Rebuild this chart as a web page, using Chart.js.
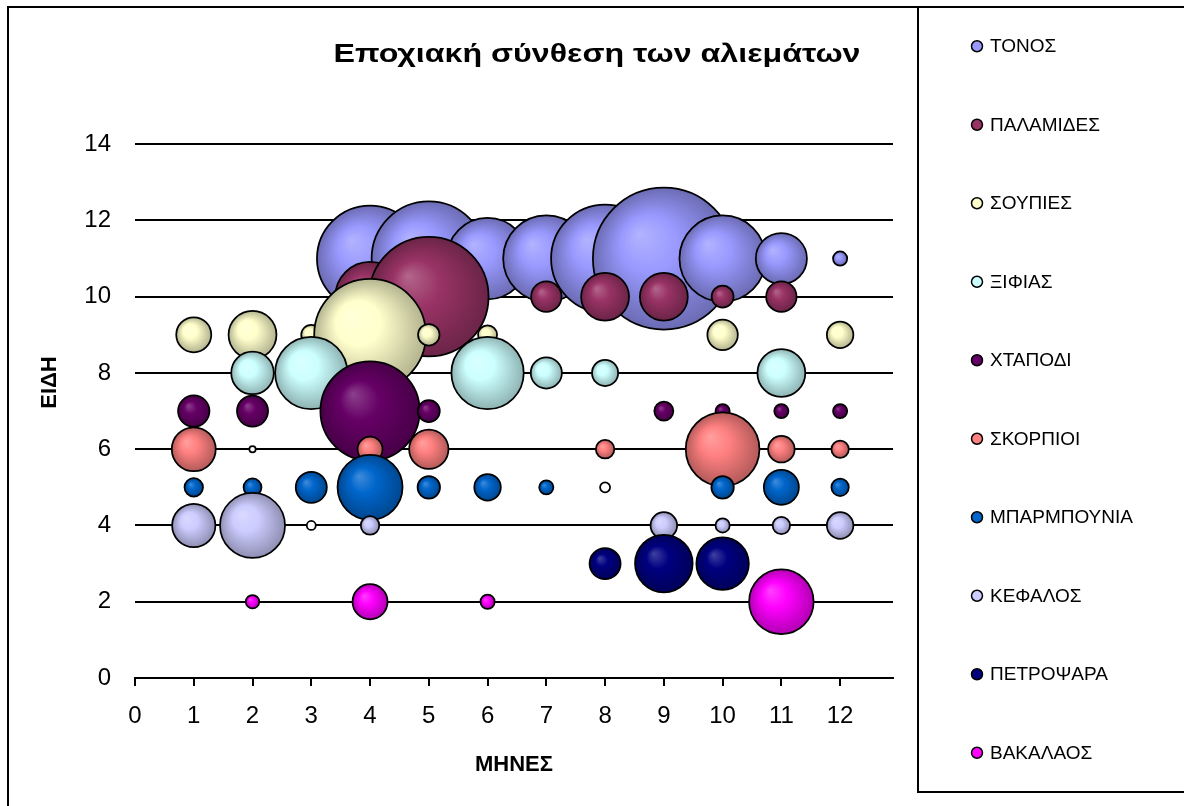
<!DOCTYPE html>
<html>
<head>
<meta charset="utf-8">
<title>Εποχιακή σύνθεση των αλιεμάτων</title>
<script src="https://cdn.jsdelivr.net/npm/chart.js@4/dist/chart.umd.min.js"></script>
<style>
  html, body { margin: 0; padding: 0; background: #fff; }
  #wrap { width: 1184px; height: 806px; }
</style>
</head>
<body>
<div id="wrap"><canvas id="bubbleChart" width="1184" height="806"></canvas></div>
<script>
const titleText = 'Εποχιακή σύνθεση των αλιεμάτων';
const xTitle = 'ΜΗΝΕΣ';
const yTitle = 'ΕΙΔΗ';

const months = [1, 2, 3, 4, 5, 6, 7, 8, 9, 10, 11, 12];
const monthTicks = [0, 1, 2, 3, 4, 5, 6, 7, 8, 9, 10, 11, 12];
const speciesTicks = [0, 2, 4, 6, 8, 10, 12, 14];

const species = ['ΤΟΝΟΣ', 'ΠΑΛΑΜΙΔΕΣ', 'ΣΟΥΠΙΕΣ', 'ΞΙΦΙΑΣ', 'ΧΤΑΠΟΔΙ',
  'ΣΚΟΡΠΙΟΙ', 'ΜΠΑΡΜΠΟΥΝΙΑ', 'ΚΕΦΑΛΟΣ', 'ΠΕΤΡΟΨΑΡΑ', 'ΒΑΚΑΛΑΟΣ'];
const speciesRows = [11, 10, 9, 8, 7, 6, 5, 4, 3, 2];
const speciesColors = ['#9999FF', '#993366', '#FFFFCC', '#CCFFFF', '#660066',
  '#FF8080', '#0066CC', '#CCCCFF', '#000080', '#FF00FF'];

// bubble size per month (relative catch), negative values are drawn hollow like Excel
const tonos      = [null, null, null, 56, 65, 33, 37, 58, 100, 37, 13, 1];
const palamides  = [null, null, null, 24, 71, null, 4.6, 11.4, 11.4, 2.4, 4.6, null];
const soupies    = [6.1, 11.4, 2.0, 62, 2.3, 1.8, null, null, null, 4.6, null, 3.5];
const xifias     = [null, 9.0, 26, null, null, 26, 4.8, 3.4, null, null, 11.4, null];
const xtapodi    = [4.9, 4.8, null, 49, 2.4, null, null, null, 1.8, 1.0, 1.0, 1.0];
const skorpioi   = [9.6, -0.2, null, 3.1, 7.7, null, null, 1.7, null, 27, 3.5, 1.5];
const barbounia  = [1.7, 1.6, 4.8, 21, 2.5, 3.5, 1.0, -0.5, null, 2.5, 6.1, 1.5];
const kefalos    = [9.3, 21, -0.4, 1.7, null, null, null, null, 3.5, 1.0, 1.5, 3.5];
const petropsara = [null, null, null, null, null, null, null, 4.8, 16.5, 13.7, null, null];
const bakalaos   = [null, 0.9, null, 6.1, null, 1.0, null, null, null, null, 20.7, null];

const sizes = [tonos, palamides, soupies, xifias, xtapodi, skorpioi, barbounia, kefalos, petropsara, bakalaos];
const sizeMax = Math.max(...sizes.flat().filter((v) => v != null).map(Math.abs));

const fontFamily = '"Liberation Sans", Arial, sans-serif';

function mix(hex, target, amount) {
  const n = parseInt(hex.slice(1), 16);
  const rgb = [(n >> 16) & 255, (n >> 8) & 255, n & 255].map((c) => Math.round(c + (target - c) * amount));
  return `rgb(${rgb[0]}, ${rgb[1]}, ${rgb[2]})`;
}

function bubbleRadius(chart, v) {
  const area = chart.chartArea;
  const h = area ? area.bottom - area.top : 591;
  return h * 0.12 * Math.sqrt(Math.abs(v) / sizeMax);
}

function bubbleFill(ctx, base) {
  if (ctx.type !== 'data' || !ctx.raw) return base;
  if (ctx.raw.v < 0) return '#ffffff';
  const chart = ctx.chart;
  const cx = chart.scales.x.getPixelForValue(ctx.raw.x);
  const cy = chart.scales.y.getPixelForValue(ctx.raw.y);
  const r = bubbleRadius(chart, ctx.raw.v);
  if (![cx, cy, r].every(Number.isFinite) || r <= 0) return base;
  const g = chart.ctx.createRadialGradient(cx - r * 0.35, cy - r * 0.35, 0, cx, cy, r);
  g.addColorStop(0, mix(base, 255, 0.25));
  g.addColorStop(0.4, base);
  g.addColorStop(1, mix(base, 0, 0.3));
  return g;
}

const datasets = species.map((name, i) => {
  const points = [];
  months.forEach((m, k) => {
    const v = sizes[i][k];
    if (v != null) points.push({ x: m, y: speciesRows[i], v });
  });
  return {
    label: name,
    data: points,
    order: species.length - i,
    backgroundColor: (ctx) => bubbleFill(ctx, speciesColors[i]),
    borderColor: '#000',
    borderWidth: 1.75,
    radius: (ctx) => (ctx.raw ? bubbleRadius(ctx.chart, ctx.raw.v) : 3),
    clip: false,
  };
});

const framePlugin = {
  id: 'frame',
  beforeDraw(chart) {
    const { ctx } = chart;
    ctx.save();
    ctx.fillStyle = '#fff';
    ctx.fillRect(0, 0, chart.width, chart.height);
    ctx.restore();
  },
  afterDraw(chart) {
    const { ctx } = chart;
    ctx.save();
    ctx.strokeStyle = '#000';
    ctx.lineWidth = 2;
    ctx.strokeRect(8, 7, 1300, 900);
    ctx.strokeRect(918, 7, 400, 785);

    // title, Excel renders it wide
    ctx.fillStyle = '#000';
    ctx.font = `bold 26px ${fontFamily}`;
    ctx.textAlign = 'center';
    ctx.textBaseline = 'alphabetic';
    const w = ctx.measureText(titleText).width;
    ctx.translate(597, 62);
    ctx.scale(527 / w, 1);
    ctx.fillText(titleText, 0, 0);
    ctx.restore();

    // legend
    ctx.save();
    ctx.font = `19px ${fontFamily}`;
    ctx.textAlign = 'left';
    ctx.textBaseline = 'middle';
    const step = 785 / species.length;
    species.forEach((name, i) => {
      const y = 7 + step * (i + 0.5);
      ctx.beginPath();
      ctx.arc(977, y, 5.5, 0, Math.PI * 2);
      ctx.fillStyle = speciesColors[i];
      ctx.fill();
      ctx.lineWidth = 1.5;
      ctx.strokeStyle = '#000';
      ctx.stroke();
      ctx.fillStyle = '#000';
      ctx.fillText(name, 990, y + 1);
    });
    ctx.restore();
  },
};

new Chart(document.getElementById('bubbleChart'), {
  type: 'bubble',
  data: { datasets },
  options: {
    responsive: false,
    animation: false,
    events: [],
    layout: { padding: { left: 0, top: 87, right: 291, bottom: 0 } },
    plugins: {
      legend: { display: false },
      title: { display: false },
      tooltip: { enabled: false },
    },
    scales: {
      x: {
        type: 'linear',
        min: 0,
        max: 12.9,
        afterBuildTicks: (scale) => { scale.ticks = monthTicks.map((v) => ({ value: v })); },
        afterFit: (scale) => { scale.height = 128; },
        ticks: {
          autoSkip: false,
          maxRotation: 0,
          padding: 16,
          color: '#000',
          font: { family: fontFamily, size: 24 },
        },
        grid: { drawOnChartArea: false, drawTicks: true, tickLength: 8, color: '#000', lineWidth: 2 },
        border: { display: true, color: '#000', width: 2 },
        title: {
          display: true,
          text: xTitle,
          color: '#000',
          font: { family: fontFamily, size: 22, weight: 'bold' },
          padding: { top: 0, bottom: 28 },
        },
      },
      y: {
        type: 'linear',
        min: 0,
        max: 15.5,
        afterBuildTicks: (scale) => { scale.ticks = speciesTicks.map((v) => ({ value: v })); },
        afterFit: (scale) => { scale.width = 135; },
        ticks: {
          padding: 24,
          color: '#000',
          font: { family: fontFamily, size: 24 },
        },
        grid: { drawTicks: false, color: '#000', lineWidth: 2 },
        border: { display: false },
        title: {
          display: true,
          text: yTitle,
          color: '#000',
          font: { family: fontFamily, size: 22, weight: 'bold' },
          padding: { top: 37, bottom: 0 },
        },
      },
    },
  },
  plugins: [framePlugin],
});
</script>
</body>
</html>
